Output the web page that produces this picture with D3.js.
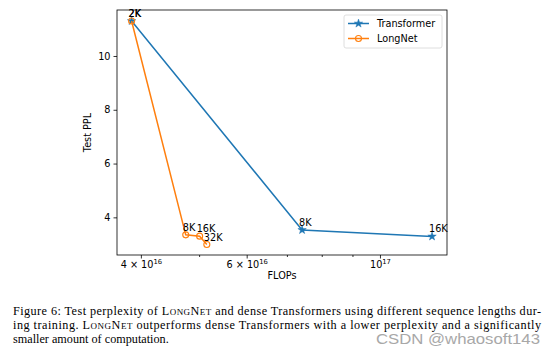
<!DOCTYPE html>
<html><head><meta charset="utf-8">
<script src="https://cdn.jsdelivr.net/npm/d3@7"></script>
<style>body{margin:0;background:#fff}svg{display:block}</style>
</head><body>
<svg id="chart" width="551" height="356"></svg>
<script>
const seriesNames = ["Transformer", "LongNet"];
const seriesColors = ["#1f77b4", "#ff7f0e"];
const transformerLabels = ["2K", "8K", "16K"];
const transformerFlops = [3.86e16, 7.42e16, 1.221e17];
const transformerPPL = [11.30, 3.53, 3.29];
const longnetLabels = ["2K", "8K", "16K", "32K"];
const longnetFlops = [3.86e16, 4.75e16, 5.01e16, 5.15e16];
const longnetPPL = [11.30, 3.35, 3.30, 2.99];
const xMajorTicks = [4e16, 6e16, 1e17];
const xMajorLabels = [["4 × 10", "16"], ["6 × 10", "16"], ["10", "17"]];
const xMinorTicks = [5e16, 7e16, 8e16, 9e16];
const yTicks = [4, 6, 8, 10];
const captionLines = [
  [["Figure 6: Test perplexity of ", ""], ["LongNet", "sc"], [" and dense Transformers using different sequence lengths dur-", ""]],
  [["ing training. ", ""], ["LongNet", "sc"], [" outperforms dense Transformers with a lower perplexity and a significantly", ""]],
  [["smaller amount of computation.", ""]]
];
const watermark = "CSDN @whaosoft143";

const svg = d3.select("#chart");
const L = 117, R = 447, T = 10, B = 255;
const x = d3.scaleLog().domain([3.65e16, 1.293e17]).range([L, R]);
const y = d3.scaleLinear().domain([2.60, 11.71]).range([B, T]);
const font = "DejaVu Sans, sans-serif";
const fs = 9.7;

// axes
const gx = svg.append("g").attr("transform", `translate(0,${B})`)
  .call(d3.axisBottom(x).tickValues(xMajorTicks).tickSize(3.5).tickPadding(3).tickFormat((d,i)=>""));
gx.selectAll(".tick text").each(function(d, i) {
  const t = d3.select(this).attr("font-family", font).attr("font-size", fs).attr("fill", "#000");
  t.append("tspan").text(xMajorLabels[i][0]);
  t.append("tspan").attr("font-size", 6.8).attr("dy", -4).text(xMajorLabels[i][1]);
});
svg.append("g").attr("transform", `translate(0,${B})`)
  .call(d3.axisBottom(x).tickValues(xMinorTicks).tickSize(2).tickFormat(() => ""))
  .call(g => g.select(".domain").remove());
const gy = svg.append("g").attr("transform", `translate(${L},0)`)
  .call(d3.axisLeft(y).tickValues(yTicks).tickSize(3.5).tickPadding(3).tickFormat(d3.format("d")));
gy.selectAll(".tick text").attr("font-family", font).attr("font-size", fs).attr("fill", "#000");
svg.selectAll(".domain").remove();
svg.selectAll(".tick line").attr("stroke", "#000").attr("stroke-width", 0.8);

// frame
svg.append("rect").attr("x", L).attr("y", T).attr("width", R - L).attr("height", B - T)
  .attr("fill", "none").attr("stroke", "#000").attr("stroke-width", 0.8);

// axis labels
svg.append("text").attr("x", (L + R) / 2).attr("y", 279).attr("text-anchor", "middle")
  .attr("font-family", font).attr("font-size", fs).text("FLOPs");
svg.append("text").attr("transform", `translate(91,${(T + B) / 2}) rotate(-90)`).attr("text-anchor", "middle")
  .attr("font-family", font).attr("font-size", fs).text("Test PPL");

const series = [
  {name: seriesNames[0], color: seriesColors[0], xs: transformerFlops, ys: transformerPPL, labels: transformerLabels, marker: "star"},
  {name: seriesNames[1], color: seriesColors[1], xs: longnetFlops, ys: longnetPPL, labels: longnetLabels, marker: "circle"}
];
const line = d3.line().x(d => x(d[0])).y(d => y(d[1]));
const star = d3.symbol().type(d3.symbolStar).size(22);
function drawMarker(g, mk, color, cx, cy) {
  if (mk === "star") {
    g.append("path").attr("d", star()).attr("transform", `translate(${cx},${cy})`).attr("fill", color).attr("stroke", color).attr("stroke-width", 0.5);
  } else {
    g.append("circle").attr("cx", cx).attr("cy", cy).attr("r", 3).attr("fill", "none").attr("stroke", color).attr("stroke-width", 1.1);
  }
}
series.forEach(s => {
  const pts = s.xs.map((v, i) => [v, s.ys[i]]);
  svg.append("path").attr("d", line(pts)).attr("fill", "none").attr("stroke", s.color).attr("stroke-width", 1.5);
  const g = svg.append("g");
  pts.forEach(p => drawMarker(g, s.marker, s.color, x(p[0]), y(p[1])));
});
series.forEach(s => {
  s.xs.forEach((v, i) => {
    svg.append("text").attr("x", x(v) - 3).attr("y", y(s.ys[i]) - 4)
      .attr("font-family", font).attr("font-size", fs).attr("fill", "#000").text(s.labels[i]);
  });
});

// legend
const lg = svg.append("g");
lg.append("rect").attr("x", 344).attr("y", 15).attr("width", 98).attr("height", 33).attr("rx", 2)
  .attr("fill", "#fff").attr("fill-opacity", 0.8).attr("stroke", "#d6d6d6").attr("stroke-width", 0.8);
series.forEach((s, i) => {
  const yy = 23.5 + i * 15;
  lg.append("line").attr("x1", 348).attr("x2", 369).attr("y1", yy).attr("y2", yy).attr("stroke", s.color).attr("stroke-width", 1.5);
  drawMarker(lg, s.marker, s.color, 358.5, yy);
  lg.append("text").attr("x", 377).attr("y", yy + 3.5).attr("font-family", font).attr("font-size", fs).text(s.name);
});

// caption
const capY = [315, 329, 343];
const capW = [528, 528, null];
captionLines.forEach((parts, i) => {
  const t = svg.append("text").attr("x", 13).attr("y", capY[i])
    .attr("font-family", "Liberation Serif, Times New Roman, serif").attr("font-size", 12.2).attr("fill", "#000");
  if (capW[i]) t.attr("textLength", capW[i]).attr("lengthAdjust", "spacing");
  parts.forEach(p => {
    const ts = t.append("tspan").text(p[0]);
    if (p[1] === "sc") ts.style("font-variant", "small-caps");
  });
});
svg.append("text").attr("x", 376).attr("y", 344).attr("textLength", 164).attr("lengthAdjust", "spacingAndGlyphs")
  .attr("font-family", "Liberation Sans, Arial, sans-serif").attr("font-size", 15).attr("fill", "#a8a8a8").text(watermark);
</script>
</body></html>
